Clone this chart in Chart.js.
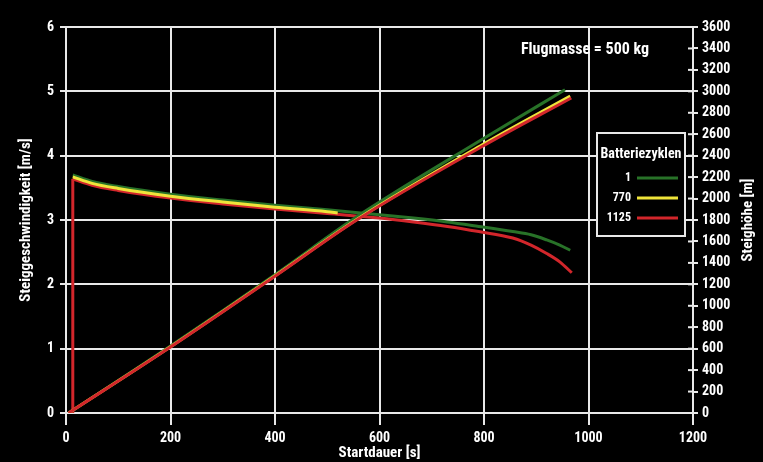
<!DOCTYPE html>
<html>
<head>
<meta charset="utf-8">
<script src="https://cdn.jsdelivr.net/npm/chart.js@4.4.1/dist/chart.umd.min.js"></script>
<style>
  html, body { margin: 0; padding: 0; background: #000; }
  #wrap { width: 763px; height: 462px; }
</style>
</head>
<body>
<div id="wrap"><canvas id="graph1" width="763" height="462"></canvas></div>
<script>
// Batteriezyklen (legend entries) and their colours
const cycleNames = ['1', '770', '1125'];
const cycleColors = ['#287228', '#efe43a', '#d2262b'];

// Steiggeschwindigkeit [m/s] over Startdauer [s] (left axis)
const velTimeGreen = [13, 50, 100, 200, 300, 400, 500, 600, 665, 730, 790, 855, 890, 920, 945, 965];
const velGreen = [3.70, 3.60, 3.52, 3.40, 3.31, 3.23, 3.16, 3.08, 3.03, 2.97, 2.90, 2.82, 2.77, 2.69, 2.61, 2.53];
const velTimeYellow = [13, 50, 100, 200, 300, 400, 500, 520];
const velYellow = [3.67, 3.57, 3.49, 3.37, 3.28, 3.20, 3.13, 3.11];
const velTimeRed = [13, 50, 100, 200, 300, 400, 500, 600, 665, 730, 790, 855, 890, 920, 945, 968];
const velRed = [3.64, 3.54, 3.46, 3.34, 3.25, 3.17, 3.10, 3.03, 2.97, 2.90, 2.82, 2.72, 2.61, 2.48, 2.35, 2.18];

// Steighöhe [m] over Startdauer [s] (right axis)
const altTimeGreen = [5, 200, 400, 555, 800, 955];
const altGreen = [0, 625, 1290, 1825, 2562, 3015];
const altTimeYellow = [5, 200, 400, 555, 800, 965];
const altYellow = [0, 618, 1280, 1800, 2510, 2955];
const altTimeRed = [5, 200, 400, 555, 800, 967];
const altRed = [0, 615, 1275, 1795, 2495, 2938];

// axis ticks
const xTicks = [0, 200, 400, 600, 800, 1000, 1200];
const yLeftMax = 6;
const yRightMax = 3600;

const FONT = "'Roboto Condensed', 'Liberation Sans Narrow', 'DejaVu Sans Condensed', sans-serif";
const GRID = '#e8e8e8';

const pts = (xs, ys) => xs.map((x, i) => ({x: x, y: ys[i]}));

function line(data, color, axis, order, extra) {
    return Object.assign({
        data: data,
        borderColor: color,
        backgroundColor: color,
        borderWidth: 3,
        pointRadius: 0,
        fill: false,
        cubicInterpolationMode: 'monotone',
        yAxisID: axis,
        order: order,
    }, extra || {});
}

// legend box, right axis title and annotation drawn on the canvas
const extras = {
    id: 'extras',
    afterDraw(chart) {
        const ctx = chart.ctx;
        const y2 = chart.scales.y2;
        ctx.save();
        // inward half of the right axis tick marks
        ctx.strokeStyle = GRID;
        ctx.lineWidth = 2;
        y2.ticks.forEach(t => {
            const py = y2.getPixelForValue(t.value);
            ctx.beginPath();
            ctx.moveTo(y2.left - 5, py);
            ctx.lineTo(y2.left, py);
            ctx.stroke();
        });

        // right axis title, reading bottom to top
        ctx.fillStyle = '#fff';
        ctx.font = 'bold 15px ' + FONT;
        ctx.textAlign = 'center';
        ctx.textBaseline = 'middle';
        ctx.translate(748, 220);
        ctx.rotate(-Math.PI / 2);
        ctx.fillText('Steighöhe [m]', 0, 0);
        ctx.setTransform(1, 0, 0, 1, 0, 0);

        // annotation
        ctx.font = 'bold 16px ' + FONT;
        ctx.textAlign = 'center';
        ctx.fillText('Flugmasse = 500 kg', 585, 50);

        // legend
        const bx = 597, by = 133, bw = 88, bh = 103;
        ctx.fillStyle = '#000';
        ctx.fillRect(bx, by, bw, bh);
        ctx.strokeStyle = GRID;
        ctx.lineWidth = 2;
        ctx.strokeRect(bx, by, bw, bh);
        ctx.fillStyle = '#fff';
        ctx.font = 'bold 14px ' + FONT;
        ctx.textAlign = 'center';
        ctx.fillText('Batteriezyklen', bx + bw / 2, by + 21);
        ctx.font = 'bold 12px ' + FONT;
        ctx.textAlign = 'right';
        cycleNames.forEach((name, i) => {
            const ly = by + 45 + i * 20;
            ctx.fillStyle = '#fff';
            ctx.fillText(name, bx + 34, ly);
            ctx.strokeStyle = cycleColors[i];
            ctx.lineWidth = 3;
            ctx.beginPath();
            ctx.moveTo(bx + 40, ly);
            ctx.lineTo(bx + 81, ly);
            ctx.stroke();
        });
        ctx.restore();
    }
};

const tickFont = { family: FONT, size: 14, weight: 'bold' };

const config = {
    type: 'line',
    data: {
        datasets: [
            // altitude: red on top, yellow just above it, green above both
            line(pts(altTimeRed, altRed), cycleColors[2], 'y2', 0),
            line(pts(altTimeYellow, altYellow), cycleColors[1], 'y2', 1),
            line(pts(altTimeGreen, altGreen), cycleColors[0], 'y2', 2),
            // velocity
            line(pts(velTimeYellow, velYellow), cycleColors[1], 'y', 0),
            line(pts(velTimeGreen, velGreen), cycleColors[0], 'y', 1),
            line(pts(velTimeRed, velRed), cycleColors[2], 'y', 2),
            // start jump of the 1125 curve
            line(pts([velTimeRed[0], velTimeRed[0]], [0, velRed[0]]), cycleColors[2], 'y', 2, {tension: 0, cubicInterpolationMode: 'default'}),
        ]
    },
    options: {
        responsive: false,
        animation: false,
        devicePixelRatio: 1,
        layout: { padding: { top: 27, left: 0, right: 0, bottom: 0 } },
        plugins: {
            legend: { display: false },
            tooltip: { enabled: false },
        },
        scales: {
            x: {
                type: 'linear',
                min: 0,
                max: 1200,
                afterBuildTicks: s => { s.ticks = xTicks.map(v => ({value: v})); },
                ticks: { color: '#fff', font: tickFont, padding: 5, maxRotation: 0, callback: v => String(v) },
                grid: { color: GRID, lineWidth: 2, tickLength: 12 },
                border: { color: GRID, width: 2 },
                title: { display: true, text: 'Startdauer [s]', color: '#fff', font: { family: FONT, size: 15, weight: 'bold' }, padding: { top: -4, bottom: 0 } },
                afterFit: s => { s.height = 49; },
            },
            y: {
                position: 'left',
                min: 0,
                max: yLeftMax,
                ticks: { stepSize: 1, color: '#fff', font: tickFont, padding: 6, callback: v => String(v) },
                grid: { color: GRID, lineWidth: 2, tickLength: 6 },
                border: { color: GRID, width: 2 },
                title: { display: true, text: 'Steiggeschwindigkeit [m/s]', color: '#fff', font: { family: FONT, size: 15, weight: 'bold' }, padding: { top: 17, bottom: 0 } },
                afterFit: s => { s.width = 66; },
            },
            y2: {
                position: 'right',
                min: 0,
                max: yRightMax,
                ticks: { stepSize: 200, color: '#fff', font: tickFont, padding: 4, autoSkip: false, callback: v => String(v) },
                grid: { drawOnChartArea: false, color: GRID, lineWidth: 2, tickLength: 5 },
                border: { color: GRID, width: 2 },
                afterFit: s => { s.width = 70; },
            }
        }
    },
    plugins: [extras]
};

const myChart = new Chart(document.getElementById('graph1'), config);
</script>
</body>
</html>
